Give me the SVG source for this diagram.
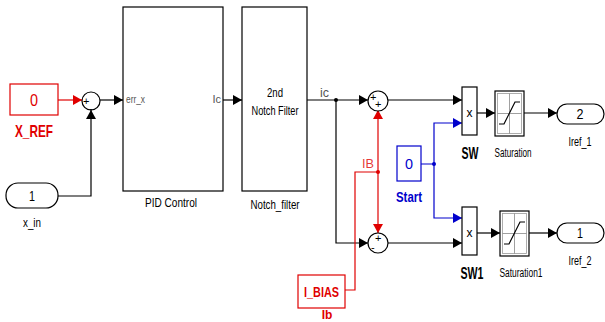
<svg xmlns="http://www.w3.org/2000/svg" width="605" height="322" viewBox="0 0 605 322">
<style>
.blk{fill:#fff;stroke:#000;stroke-width:1.2}
.red{fill:#fff;stroke:#e00000;stroke-width:1.2}
.blu{fill:#fff;stroke:#0000cc;stroke-width:1.2}
.t{font-family:"Liberation Sans",Arial,sans-serif;fill:#000}
.tr{font-family:"Liberation Sans",Arial,sans-serif;fill:#e00000}
.tb{font-family:"Liberation Sans",Arial,sans-serif;fill:#0000cc}
.tg{font-family:"Liberation Sans",Arial,sans-serif;fill:#555}
.w{stroke:#000;stroke-width:1.2;fill:none}
.wr{stroke:#e00000;stroke-width:1.2;fill:none}
.wb{stroke:#0000cc;stroke-width:1.2;fill:none}
.ax{stroke:#888;stroke-width:0.8;fill:none}
</style>
<defs>
<marker id="ab" markerUnits="userSpaceOnUse" markerWidth="10" markerHeight="10" refX="9" refY="5" orient="auto"><path d="M0,0 L9,5 L0,10 Z" fill="#000"/></marker>
<marker id="ar" markerUnits="userSpaceOnUse" markerWidth="10" markerHeight="10" refX="9" refY="5" orient="auto"><path d="M0,0 L9,5 L0,10 Z" fill="#e00000"/></marker>
<marker id="au" markerUnits="userSpaceOnUse" markerWidth="10" markerHeight="10" refX="9" refY="5" orient="auto"><path d="M0,0 L9,5 L0,10 Z" fill="#0000cc"/></marker>
</defs>
<rect width="605" height="322" fill="#fff"/>

<g id="connectors">
<path class="wr" d="M58,100 H82" marker-end="url(#ar)"/>
<path class="w" d="M58,196 H91 V110" marker-end="url(#ab)"/>
<path class="w" d="M100,100 H123" marker-end="url(#ab)"/>
<path class="w" d="M223,100 H242" marker-end="url(#ab)"/>
<path class="w" d="M307,100 H368" marker-end="url(#ab)"/>
<path class="w" d="M336,100 V243 H368" marker-end="url(#ab)"/>
<circle cx="336" cy="100" r="2" fill="#000"/>
<path class="w" d="M388,100 H462" marker-end="url(#ab)"/>
<path class="w" d="M388,243 H462" marker-end="url(#ab)"/>
<path class="wr" d="M378,172 V110" marker-end="url(#ar)"/>
<path class="wr" d="M378,172 V233" marker-end="url(#ar)"/>
<path class="wr" d="M378,172 H355 V290 H345"/>
<circle cx="378" cy="172" r="2" fill="#e00000"/>
<path class="wb" d="M421,164 H434 V123 H462" marker-end="url(#au)"/>
<path class="wb" d="M434,164 V218 H462" marker-end="url(#au)"/>
<circle cx="434" cy="164" r="2" fill="#0000cc"/>
<path class="w" d="M477,113 H495" marker-end="url(#ab)"/>
<path class="w" d="M524,113 H557" marker-end="url(#ab)"/>
<path class="w" d="M477,233 H500" marker-end="url(#ab)"/>
<path class="w" d="M529,233 H557" marker-end="url(#ab)"/>
<text class="tg" x="320" y="97" font-size="12" textLength="9" lengthAdjust="spacingAndGlyphs">ic</text>
<text class="tr" x="362" y="168" font-size="12" fill-opacity="0.8" textLength="12" lengthAdjust="spacingAndGlyphs">IB</text>
</g>

<g id="X_REF">
<rect class="red" x="10" y="84" width="48" height="31"/>
<text class="tr" x="34" y="106" font-size="16" text-anchor="middle" textLength="8" lengthAdjust="spacingAndGlyphs">0</text>
<text class="tr" x="34" y="137" font-size="17" font-weight="bold" text-anchor="middle" textLength="38" lengthAdjust="spacingAndGlyphs">X_REF</text>
</g>

<g id="x_in">
<rect class="blk" x="6" y="183" width="52" height="25" rx="12" ry="12"/>
<text class="t" x="32" y="201" font-size="14" text-anchor="middle" textLength="6" lengthAdjust="spacingAndGlyphs">1</text>
<text class="t" x="32" y="227" font-size="13" text-anchor="middle" textLength="18" lengthAdjust="spacingAndGlyphs">x_in</text>
</g>

<g id="sum0">
<circle class="blk" cx="91" cy="101" r="9"/>
<text class="t" x="83" y="105" font-size="11">+</text>
<text class="t" x="89" y="112" font-size="11">-</text>
</g>

<g id="PID_Control">
<rect class="blk" x="123" y="7" width="100" height="184"/>
<text class="tg" x="126" y="103" font-size="11" textLength="19" lengthAdjust="spacingAndGlyphs">err_x</text>
<text class="tg" x="221" y="103" font-size="11" text-anchor="end">Ic</text>
<text class="t" x="171" y="207" font-size="13" text-anchor="middle" textLength="52" lengthAdjust="spacingAndGlyphs">PID Control</text>
</g>

<g id="Notch_filter">
<rect class="blk" x="242" y="7" width="65" height="184"/>
<text class="t" x="275" y="97" font-size="13" text-anchor="middle" textLength="16" lengthAdjust="spacingAndGlyphs">2nd</text>
<text class="t" x="275" y="115" font-size="13" text-anchor="middle" textLength="47" lengthAdjust="spacingAndGlyphs">Notch Filter</text>
<text class="t" x="275" y="209" font-size="13" text-anchor="middle" textLength="49" lengthAdjust="spacingAndGlyphs">Notch_filter</text>
</g>

<g id="sum1">
<circle class="blk" cx="378" cy="101" r="10"/>
<text class="t" x="370" y="101" font-size="11">+</text>
<text class="t" x="375" y="108" font-size="11">+</text>
</g>

<g id="sum2">
<circle class="blk" cx="378" cy="243" r="10"/>
<text class="t" x="375" y="242" font-size="11">+</text>
<text class="t" x="371" y="251" font-size="11">-</text>
</g>

<g id="I_BIAS">
<rect class="red" x="298" y="275" width="47" height="33"/>
<text class="tr" x="321.5" y="297" font-size="15" font-weight="bold" text-anchor="middle" textLength="35" lengthAdjust="spacingAndGlyphs">I_BIAS</text>
<text class="tr" x="327" y="319" font-size="12" font-weight="bold" text-anchor="middle">Ib</text>
</g>

<g id="Start">
<rect class="blu" x="397" y="146" width="24" height="35"/>
<text class="tb" x="409" y="169" font-size="15" text-anchor="middle" textLength="8" lengthAdjust="spacingAndGlyphs">0</text>
<text class="tb" x="409" y="202" font-size="15" font-weight="bold" text-anchor="middle" textLength="26" lengthAdjust="spacingAndGlyphs">Start</text>
</g>

<g id="SW">
<rect class="blk" x="462" y="87" width="15" height="48"/>
<text class="t" x="469.5" y="117" font-size="12" text-anchor="middle">x</text>
<text class="t" x="470" y="159" font-size="16" font-weight="bold" text-anchor="middle" textLength="17" lengthAdjust="spacingAndGlyphs">SW</text>
</g>

<g id="SW1">
<rect class="blk" x="462" y="207" width="15" height="48"/>
<text class="t" x="469.5" y="237" font-size="12" text-anchor="middle">x</text>
<text class="t" x="472" y="279" font-size="16" font-weight="bold" text-anchor="middle" textLength="23" lengthAdjust="spacingAndGlyphs">SW1</text>
</g>

<g id="Saturation">
<rect class="blk" x="495" y="91" width="29" height="45"/>
<rect x="497.5" y="93.5" width="24" height="40" fill="none" stroke="#999" stroke-width="0.8"/>
<path class="ax" d="M509.5,93.5 V133.5 M497.5,113.5 H521.5"/>
<path d="M499,124 H504 L515,102 H520" fill="none" stroke="#000" stroke-width="1.2"/>
<text class="t" x="513" y="157" font-size="12" text-anchor="middle" textLength="37" lengthAdjust="spacingAndGlyphs">Saturation</text>
</g>

<g id="Saturation1">
<rect class="blk" x="500" y="211" width="29" height="45"/>
<rect x="502.5" y="213.5" width="24" height="40" fill="none" stroke="#999" stroke-width="0.8"/>
<path class="ax" d="M514.5,213.5 V253.5 M502.5,233.5 H526.5"/>
<path d="M504,244 H509 L520,222 H525" fill="none" stroke="#000" stroke-width="1.2"/>
<text class="t" x="521" y="277" font-size="12" text-anchor="middle" textLength="43" lengthAdjust="spacingAndGlyphs">Saturation1</text>
</g>

<g id="Iref_1">
<rect class="blk" x="557" y="104" width="47" height="20" rx="10" ry="10"/>
<text class="t" x="580" y="119" font-size="14" text-anchor="middle" textLength="7" lengthAdjust="spacingAndGlyphs">2</text>
<text class="t" x="580" y="146" font-size="12" text-anchor="middle" textLength="23" lengthAdjust="spacingAndGlyphs">Iref_1</text>
</g>

<g id="Iref_2">
<rect class="blk" x="557" y="223" width="47" height="20" rx="10" ry="10"/>
<text class="t" x="580" y="238" font-size="14" text-anchor="middle" textLength="6" lengthAdjust="spacingAndGlyphs">1</text>
<text class="t" x="580" y="265" font-size="12" text-anchor="middle" textLength="23" lengthAdjust="spacingAndGlyphs">Iref_2</text>
</g>
</svg>
